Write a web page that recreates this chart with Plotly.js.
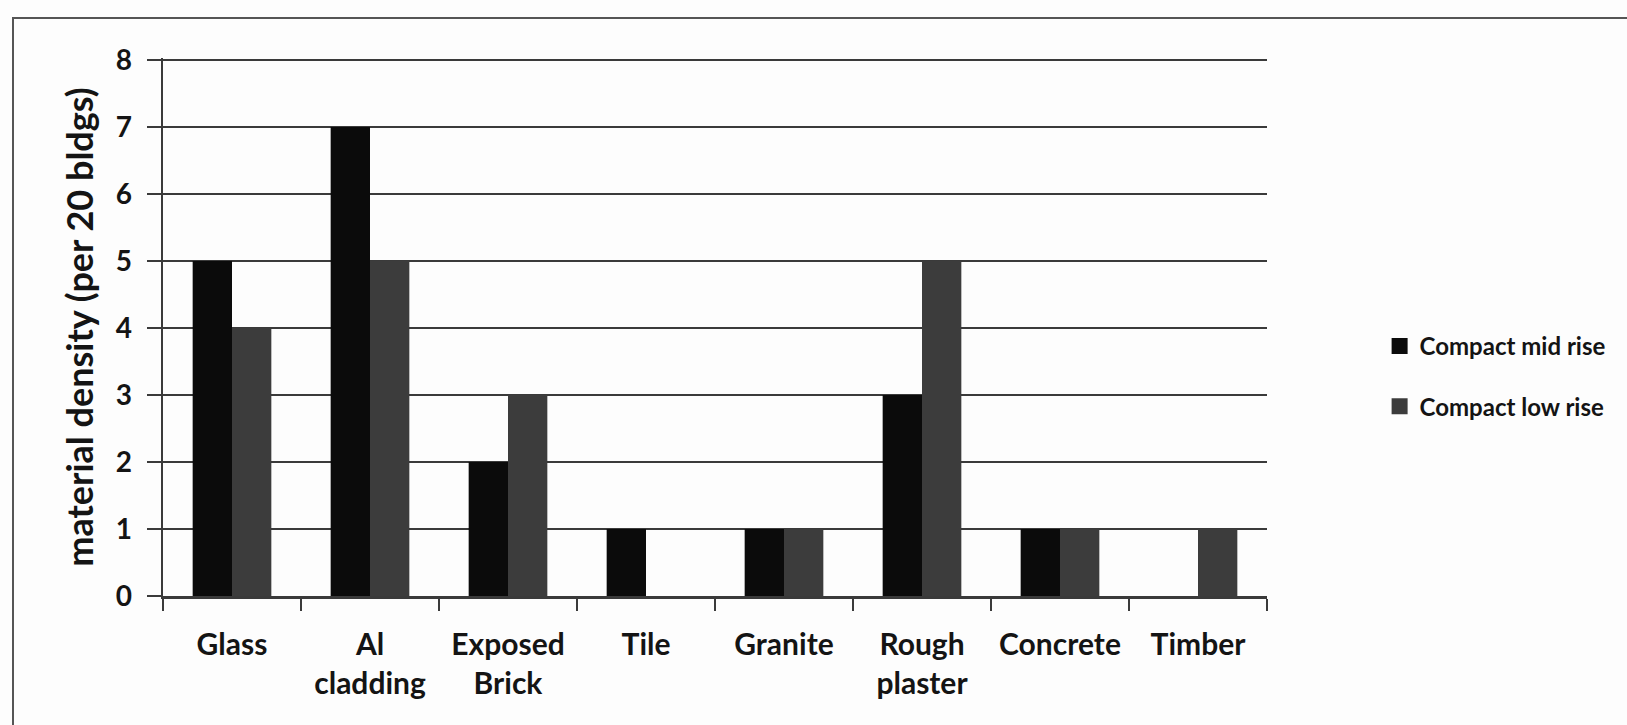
<!DOCTYPE html>
<html>
<head>
<meta charset="utf-8">
<script src="https://cdn.plot.ly/plotly-3.0.1.min.js"></script>
<style>
  html, body { margin: 0; padding: 0; background: #fdfdfd; }
  #wrap { position: relative; width: 1627px; height: 725px; overflow: hidden; }
  #chart { width: 1627px; height: 725px; }
  #frame { position: absolute; left: 12px; top: 17px; width: 1700px; height: 800px;
           border-left: 2px solid #555; border-top: 2px solid #555; pointer-events: none; }
</style>
</head>
<body>
<div id="wrap">
  <div id="chart"></div>
  <div id="frame"></div>
</div>
<script>
// ---- data ----
const categories = ["Glass", "Al<br>cladding", "Exposed<br>Brick", "Tile", "Granite", "Rough<br>plaster", "Concrete", "Timber"];
const seriesNames = ["Compact mid rise", "Compact low rise"];
const midRise = [5, 7, 2, 1, 1, 3, 1, 0];
const lowRise = [4, 5, 3, 0, 1, 5, 1, 1];
const yTickVals = [0, 1, 2, 3, 4, 5, 6, 7, 8];
const yTitle = "material density (per 20 bldgs)";

const colors = ["#0b0b0b", "#3c3c3c"];
const gridColor = "#3a3a3a";
const txtColor = "#141414";
const fontFam = "Lato, 'Open Sans', sans-serif";

const traces = [
  { type: "bar", x: categories, y: midRise, name: seriesNames[0], marker: { color: colors[0] }, showlegend: false },
  { type: "bar", x: categories, y: lowRise, name: seriesNames[1], marker: { color: colors[1] }, showlegend: false },
  // legend proxies (no data), to get a larger square swatch
  { type: "scatter", mode: "markers", x: [null], y: [null], name: seriesNames[0], legendgroup: "a",
    marker: { symbol: "square", size: 16, color: colors[0] } },
  { type: "scatter", mode: "markers", x: [null], y: [null], name: seriesNames[1], legendgroup: "b",
    marker: { symbol: "square", size: 16, color: colors[1] } }
];

const layout = {
  width: 1627, height: 725,
  paper_bgcolor: "#fdfdfd", plot_bgcolor: "#fdfdfd",
  margin: { l: 163, r: 360, t: 58, b: 129, pad: 0 },
  font: { family: fontFam, color: txtColor, size: 26, weight: 700 },
  barmode: "group",
  bargap: 0.43,
  bargroupgap: 0,
  showlegend: true,
  legend: {
    x: 1.102, xanchor: "left", y: 0.408, yanchor: "middle",
    font: { family: fontFam, size: 24, color: txtColor, weight: 700 },
    tracegroupgap: 26, bgcolor: "rgba(0,0,0,0)", itemwidth: 30
  },
  xaxis: {
    type: "category",
    showline: true, linecolor: gridColor, linewidth: 2.5,
    ticks: "outside", tickson: "boundaries", ticklen: 12, tickwidth: 2.5, tickcolor: gridColor,
    showgrid: false, zeroline: false,
    tickfont: { family: fontFam, size: 30, color: txtColor, weight: 700 },
    ticklabelstandoff: 20,
    fixedrange: true
  },
  yaxis: {
    range: [0, 8.03], tickvals: yTickVals, ticktext: yTickVals.map(String),
    showline: true, linecolor: gridColor, linewidth: 2.5,
    showgrid: true, gridcolor: gridColor, gridwidth: 2.5,
    zeroline: false,
    ticks: "outside", ticklen: 14, tickwidth: 2.5, tickcolor: gridColor,
    tickfont: { family: fontFam, size: 28, color: txtColor, weight: 700 },
    ticklabelstandoff: 9,
    title: { text: yTitle, standoff: 11, font: { family: fontFam, size: 36, color: txtColor, weight: 700 } },
    fixedrange: true
  }
};

Plotly.newPlot("chart", traces, layout, { displayModeBar: false, staticPlot: true });
</script>
</body>
</html>
